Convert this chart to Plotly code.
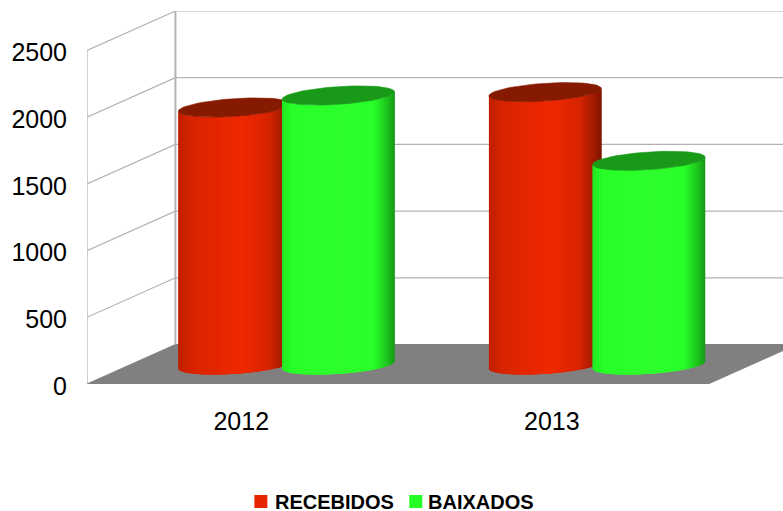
import math
import plotly.graph_objects as go

categories = [2012, 2013]
recebidos = [1930, 2045]
baixados = [2020, 1530]
y_ticks = [0, 500, 1000, 1500, 2000, 2500]
series_names = ["RECEBIDOS", "BAIXADOS"]
series_colors = ["#e62600", "#26ff26"]

# chart geometry, expressed in axis units
PX_X = 310.75          # pixels per category
PX_Y = 66.7 / 500      # pixels per value unit
X0, X1 = -0.5, 1.5     # front edge of the floor
XMAX = X0 + 696.5 / PX_X
YMAX = 373 / PX_Y
DEPTH_X = 88.5 / PX_X
DEPTH_Y = 39.5 / PX_Y
OFFSET = 51.9 / PX_X
RAD_X = 52 / PX_X
RAD_DX = 21.5 / PX_X
RAD_DY = 9.6 / PX_Y
N = 70

GRID = "#b3b3b3"
fig = go.Figure()

# floor
fig.add_trace(go.Scatter(
    x=[X0, X1, X1 + DEPTH_X, X0 + DEPTH_X, X0],
    y=[0, 0, DEPTH_Y, DEPTH_Y, 0],
    mode="lines", fill="toself", fillcolor="#808080",
    line=dict(color="#808080", width=1), showlegend=False, hoverinfo="skip"))

# gridlines on side and back walls
for v in y_ticks:
    if v > 0:
        fig.add_trace(go.Scatter(
            x=[X0, X0 + DEPTH_X, XMAX], y=[v, v + DEPTH_Y, v + DEPTH_Y],
            mode="lines", line=dict(color=GRID, width=1.2),
            showlegend=False, hoverinfo="skip"))
fig.add_trace(go.Scatter(x=[X0, X0], y=[0, y_ticks[-1]], mode="lines",
                         line=dict(color=GRID, width=1.2), showlegend=False, hoverinfo="skip"))
fig.add_trace(go.Scatter(x=[X0 + DEPTH_X] * 2, y=[DEPTH_Y, y_ticks[-1] + DEPTH_Y], mode="lines",
                         line=dict(color=GRID, width=2), showlegend=False, hoverinfo="skip"))


def shade(f):
    stops = [(0, .80), (.12, .90), (.55, 1.0), (.8, .90), (.93, .68), (1, .53)]
    for (a, sa), (b, sb) in zip(stops, stops[1:]):
        if f <= b:
            return sa + (sb - sa) * (f - a) / (b - a)
    return stops[-1][1]


def rgb(base, s):
    return "rgb(%d,%d,%d)" % tuple(min(255, round(c * s)) for c in base)


def cyl_point(cx, cy, t):
    return (cx + RAD_X * math.cos(t) + RAD_DX * math.sin(t),
            cy + RAD_DY * math.sin(t))


def cylinder(cat_i, side, value, base, top_col):
    cx = cat_i + side * OFFSET + DEPTH_X / 2
    cy0 = DEPTH_Y / 2 - 0.7 / PX_Y
    cy1 = cy0 + value
    t0 = math.atan2(RAD_DX, RAD_X)
    half = math.hypot(RAD_X, RAD_DX)
    for i in range(N):
        # each strip overlaps the next ones, painted left to right, so no seams show
        j_end = min(N, i + 3)
        ts = [t0 + math.pi + math.pi * j / N for j in range(i, j_end + 1)]
        low = [cyl_point(cx, cy0, t) for t in ts]
        up = [cyl_point(cx, cy1, t) for t in reversed(ts)]
        a = t0 + math.pi + math.pi * i / N
        b = t0 + math.pi + math.pi * (i + 1) / N
        f = ((cyl_point(cx, cy0, a)[0] + cyl_point(cx, cy0, b)[0]) / 2 - (cx - half)) / (2 * half)
        col = rgb(base, shade(f))
        poly = low + up + low[:1]
        fig.add_trace(go.Scatter(
            x=[p[0] for p in poly], y=[p[1] for p in poly],
            mode="lines", fill="toself", fillcolor=col,
            line=dict(width=0), showlegend=False, hoverinfo="skip"))
    pts = [cyl_point(cx, cy1, 2 * math.pi * k / 80) for k in range(81)]
    fig.add_trace(go.Scatter(
        x=[p[0] for p in pts], y=[p[1] for p in pts],
        mode="lines", fill="toself", fillcolor=top_col,
        line=dict(color=top_col, width=0.6), showlegend=False, hoverinfo="skip"))


RED = (240, 40, 0)
GREEN = (45, 290, 45)
for i in range(len(categories)):
    cylinder(i, -1, recebidos[i], RED, "#851a00")
    cylinder(i, 1, baixados[i], GREEN, "#189a18")

FONT = "Liberation Sans"


def paper_x(px):
    return (px - 86.5) / 696.5


def paper_y(py):
    return (384 - py) / 373


# legend, placed below the plot: swatch and bold label for each series
legend_swatch_px = [254, 409]
legend_text_px = [274, 427]
shapes = []
annotations = []
for name, col, sx, tx in zip(series_names, series_colors, legend_swatch_px, legend_text_px):
    shapes.append(dict(type="rect", xref="paper", yref="paper",
                       x0=paper_x(sx), x1=paper_x(sx + 13),
                       y0=paper_y(508), y1=paper_y(495),
                       fillcolor=col, line=dict(width=0)))
    annotations.append(dict(xref="paper", yref="paper", x=paper_x(tx), y=paper_y(502),
                            xanchor="left", yanchor="middle", showarrow=False, text=name,
                            borderpad=0, font=dict(family=FONT, size=20, color="black", weight="bold")))

fig.update_layout(
    width=783, height=511, autosize=False, showlegend=False,
    margin=dict(l=86.5, r=0, t=11, b=127),
    paper_bgcolor="white", plot_bgcolor="white",
    font=dict(family=FONT, color="black", size=25),
    shapes=shapes, annotations=annotations,
    xaxis=dict(range=[X0, XMAX], tickmode="array", tickvals=list(range(len(categories))),
               ticktext=[str(c) for c in categories], showgrid=False, zeroline=False,
               showline=False, ticks="", ticklabelstandoff=20, ticklabelshift=-1),
    yaxis=dict(range=[0, YMAX], tickmode="array", tickvals=y_ticks,
               ticktext=[str(v) for v in y_ticks], showgrid=False, zeroline=False,
               showline=False, ticks="", ticklabelstandoff=19, ticklabelshift=2),
)
fig.write_html("out.html", config={"displayModeBar": False},
               post_script="document.body.style.margin='0';document.body.style.overflow='hidden';")
